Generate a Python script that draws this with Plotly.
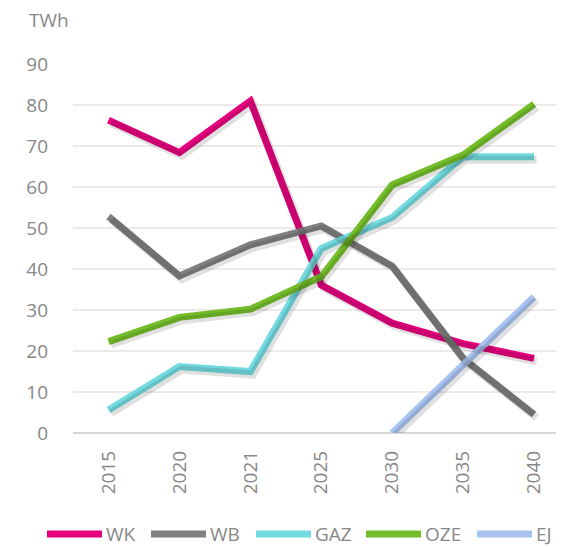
import plotly.graph_objects as go

years = ["2015", "2020", "2021", "2025", "2030", "2035", "2040"]
wk = [76.3, 68.4, 81.0, 36.1, 26.8, 21.8, 18.2]
wb = [52.8, 38.3, 45.9, 50.5, 40.7, 18.2, 4.5]
gaz = [5.6, 16.2, 15.0, 45.0, 52.6, 67.4, 67.4]
oze = [22.3, 28.2, 30.2, 38.1, 60.5, 67.8, 80.2]
ej_years = ["2030", "2035", "2040"]
ej = [0.0, 16.6, 33.2]

y_ticks = [0, 10, 20, 30, 40, 50, 60, 70, 80, 90]

series = [
    ("WK", years, wk, "#e6007e"),
    ("WB", years, wb, "#808080"),
    ("GAZ", years, gaz, "#73dbe0"),
    ("OZE", years, oze, "#74bd2a"),
    ("EJ", ej_years, ej, "#a8c3ef"),
]

FONT = "Open Sans"
GREY = "#888888"
OFF = 8  # page body margin
W, H = 564, 548
ML, MR, MT, MB = 73 - OFF, 0, 64 - OFF, 548 - (433 - OFF)
PW = W - ML - MR
PH = H - MT - MB

fig = go.Figure()

# soft shadow (same data, slightly offset axes)
for name, xs, ys, col in series:
    fig.add_trace(go.Scatter(x=xs, y=ys, mode="lines", xaxis="x2", yaxis="y2",
                             line=dict(color="rgba(0,0,0,0.12)", width=8),
                             hoverinfo="skip", showlegend=False))
for name, xs, ys, col in series:
    fig.add_trace(go.Scatter(x=xs, y=ys, mode="lines", name=name,
                             line=dict(color=col, width=7), showlegend=False))

xr = [-0.5, 6.535]
dx = 2.5 / PW * (xr[1] - xr[0])
dy = 3.0 / PH * 90

fig.update_layout(
    width=W, height=H,
    margin=dict(l=ML, r=MR, t=MT, b=MB),
    paper_bgcolor="white", plot_bgcolor="white",
    font=dict(family=FONT, color=GREY, size=19),
    xaxis=dict(type="category", categoryorder="array", categoryarray=years,
               range=xr, showgrid=False, zeroline=False, showline=False,
               tickangle=-90, ticks="", ticklabelstandoff=13,
               tickfont=dict(size=19, color=GREY)),
    yaxis=dict(range=[0, 90], tickvals=y_ticks, showgrid=True,
               gridcolor="#eee9eb", gridwidth=1.5, zeroline=True,
               zerolinecolor="#d6d6d6", zerolinewidth=2, showline=False,
               ticks="", ticklabelstandoff=24, tickfont=dict(size=19, color=GREY)),
    xaxis2=dict(type="category", categoryorder="array", categoryarray=years,
                range=[xr[0] - dx, xr[1] - dx], overlaying="x", visible=False),
    yaxis2=dict(range=[0 + dy, 90 + dy], overlaying="y", visible=False),
    showlegend=False,
)


def px_x(wx):
    return (wx - OFF - ML) / PW


def px_y(wy):
    return (H - MB - (wy - OFF)) / PH


fig.add_annotation(text="TWh", xref="paper", yref="paper",
                   x=px_x(27), y=px_y(20),
                   xanchor="left", yanchor="middle", showarrow=False,
                   font=dict(size=19, color=GREY, family=FONT))

# custom legend (window pixel positions of line start/end)
leg_y = px_y(534)
spans = [(46, 103), (150, 207), (255, 312), (365, 422), (476, 533)]
for (name, xs, ys, col), (sx, ex) in zip(series, spans):
    fig.add_shape(type="line", xref="paper", yref="paper",
                  x0=px_x(sx + 1), x1=px_x(ex - 1), y0=leg_y, y1=leg_y,
                  line=dict(color=col, width=7))
    fig.add_annotation(text=name, xref="paper", yref="paper",
                       x=px_x(ex + 1), y=leg_y, xanchor="left", yanchor="middle",
                       showarrow=False, font=dict(size=19, color=GREY, family=FONT))

fig.write_html("out.html")
